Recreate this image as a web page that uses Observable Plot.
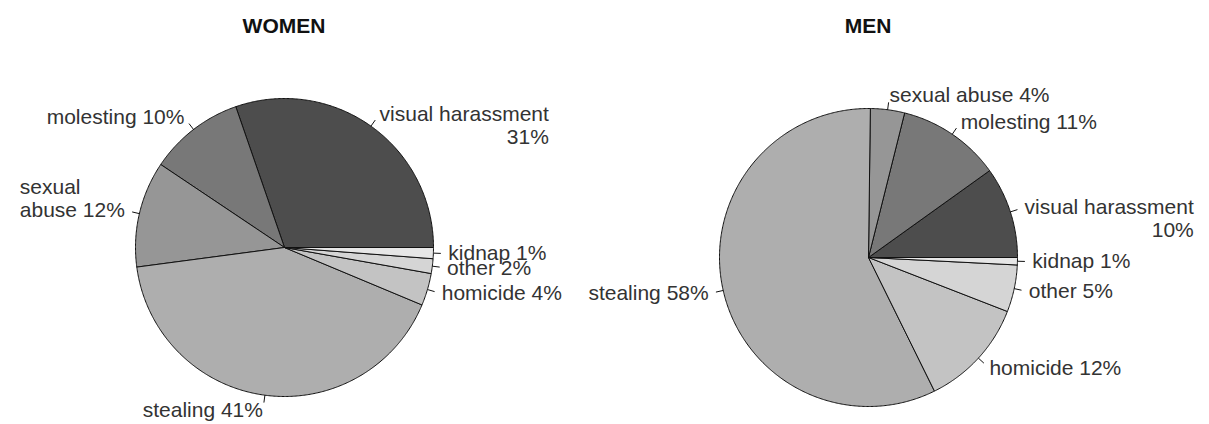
<!DOCTYPE html>
<html>
<head>
<meta charset="utf-8">
<script src="https://cdn.jsdelivr.net/npm/d3@7"></script>
<script src="https://cdn.jsdelivr.net/npm/@observablehq/plot@0.6"></script>
<style>
  html, body { margin: 0; padding: 0; background: #fff; }
  #root { position: relative; width: 1209px; height: 424px; display: flex; overflow: hidden; }
  .panel { position: relative; height: 424px; }
  .title { position: absolute; top: 15px; width: 200px; text-align: center;
           font: bold 21px/21px "Liberation Sans", Arial, sans-serif; color: #111; }
  svg { overflow: visible; }
</style>
</head>
<body>
<div id="root"></div>
<script>
// ---- data ----
const categories = ["visual harassment", "molesting", "sexual abuse", "stealing", "homicide", "other", "kidnap"];
const womenValues = [30.3, 10.3, 11.5, 41.6, 3.5, 1.6, 1.2];
const menValues   = [9.9, 11.2, 3.7, 57.5, 11.8, 5.1, 0.8];
const womenLabels = ["visual harassment\n31%", "molesting 10%", "sexual\nabuse 12%", "stealing 41%", "homicide 4%", "other 2%", "kidnap 1%"];
const menLabels   = ["visual harassment\n10%", "molesting 11%", "sexual abuse 4%", "stealing 58%", "homicide 12%", "other 5%", "kidnap 1%"];
const grays = ["#4d4d4d", "#787878", "#969696", "#aeaeae", "#c3c3c3", "#d5d5d5", "#e6e6e6"];

// ---- layout ----
const H = 424, R = 149, FONT = "'Liberation Sans', Arial, sans-serif", FS = 21, LH = 23;
const canvas = document.createElement("canvas").getContext("2d");
canvas.font = `${FS}px ${FONT}`;
const measure = s => canvas.measureText(s).width;

function panel(title, values, labels, W, cx, cy) {
  const total = d3.sum(values);
  const cum = d3.cumsum(values);
  const slices = values.map((v, i) => ({
    cat: categories[i],
    a0: 2 * Math.PI * (cum[i] - v) / total,
    a1: 2 * Math.PI * cum[i] / total,
    label: labels[i]
  }));
  // polygon points for each slice
  const pts = [];
  for (const s of slices) {
    const n = Math.max(2, Math.ceil((s.a1 - s.a0) / (Math.PI / 360)));
    pts.push({cat: s.cat, x: 0, y: 0});
    for (let k = 0; k <= n; k++) {
      const a = s.a0 + (s.a1 - s.a0) * k / n;
      pts.push({cat: s.cat, x: Math.cos(a), y: Math.sin(a)});
    }
    pts.push({cat: s.cat, x: 0, y: 0});
  }
  // ticks and labels
  const ticks = slices.map(s => {
    const m = (s.a0 + s.a1) / 2;
    return {x1: Math.cos(m), y1: Math.sin(m), x2: 1.05 * Math.cos(m), y2: 1.05 * Math.sin(m)};
  });
  const lines = [];
  for (const s of slices) {
    const m = (s.a0 + s.a1) / 2;
    const ax = 1.1 * Math.cos(m), ay = 1.1 * Math.sin(m);
    const right = ax >= 0;
    const parts = s.label.split("\n");
    const widths = parts.map(measure);
    const bw = d3.max(widths);
    parts.forEach((t, i) => {
      const off = right ? i : i - (parts.length - 1); // line index relative to anchor line
      const y = ay - off * LH / R;
      if (widths[i] >= bw - 0.5) {
        lines.push({text: t, x: ax, y, anchor: right ? "start" : "end"});
      } else {
        lines.push({text: t, x: right ? ax + bw / R : ax - bw / R, y, anchor: right ? "end" : "start"});
      }
    });
  }
  const textOpts = a => ({x: "x", y: "y", text: "text", textAnchor: a, lineAnchor: "middle",
                          fontSize: FS, fontFamily: FONT, fill: "#333"});
  const chart = Plot.plot({
    width: W, height: H, margin: 0,
    x: {domain: [-cx / R, (W - cx) / R], axis: null},
    y: {domain: [-(H - cy) / R, cy / R], axis: null},
    color: {domain: categories, range: grays},
    style: {background: "white", overflow: "visible"},
    marks: [
      Plot.line(pts, {x: "x", y: "y", z: "cat", fill: "cat", stroke: "#111", strokeWidth: 1, curve: "linear", strokeLinejoin: "miter"}),
      Plot.link(ticks, {x1: "x1", y1: "y1", x2: "x2", y2: "y2", stroke: "#111", strokeWidth: 1}),
      Plot.text(lines.filter(d => d.anchor === "start"), textOpts("start")),
      Plot.text(lines.filter(d => d.anchor === "end"), textOpts("end"))
    ]
  });
  const div = document.createElement("div");
  div.className = "panel";
  div.style.width = W + "px";
  div.appendChild(chart);
  const t = document.createElement("div");
  t.className = "title";
  t.style.left = (cx - 100) + "px";
  t.textContent = title;
  div.appendChild(t);
  return div;
}

const root = document.getElementById("root");
root.appendChild(panel("WOMEN", womenValues, womenLabels, 575, 284, 247));
root.appendChild(panel("MEN", menValues, menLabels, 634, 868 - 575, 257));
</script>
</body>
</html>
